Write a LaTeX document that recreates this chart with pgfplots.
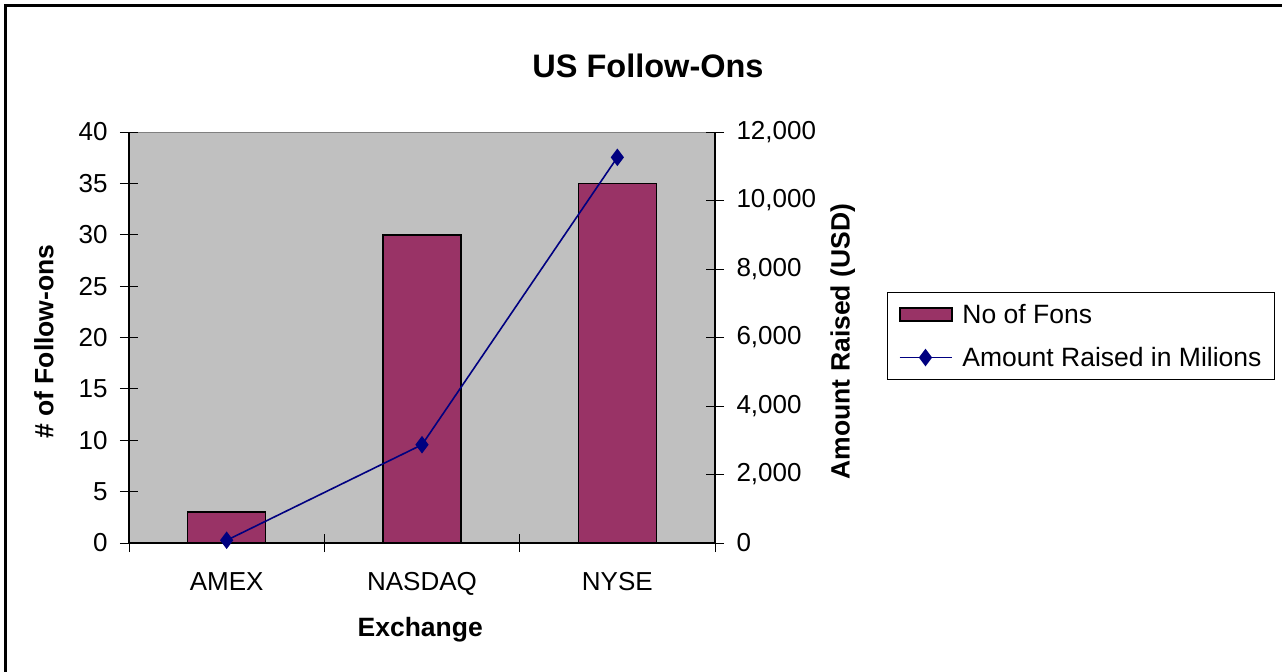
\documentclass[border=0pt]{standalone}
\usepackage{fontspec}
\setmainfont{Liberation Sans}
\usepackage{pgfplots}
\pgfplotsset{compat=1.18}
\definecolor{plum}{HTML}{993366}
\definecolor{navy}{HTML}{000080}
\definecolor{plotbg}{HTML}{C0C0C0}

\tikzset{lbl/.style={font=\bfseries\fontsize{26.5bp}{30bp}\selectfont}}
\pgfplotsset{
  common/.style={
    at={(129bp,-543bp)}, anchor=south west,
    scale only axis, width=586bp, height=411bp,
    xmin=-0.5, xmax=2.5,
    tick align=center, major tick length=18bp, minor tick length=18bp,
    every tick/.style={black, line width=1bp},
    axis line style={black, line width=1.2bp},
    /pgf/number format/assume math mode=true,
    tick label style={font=\fontsize{26bp}{29bp}\selectfont},
  },
  linelegend/.style={
    legend image code/.code={\draw[mark repeat=2, mark phase=2, ##1, line width=1.6bp] plot coordinates {(0bp,0bp) (26bp,0bp) (52bp,0bp)};}
  },
}

\begin{document}
\begin{tikzpicture}
\useasboundingbox (0,0) rectangle (1282bp,-672bp);
\draw[line width=2.5bp] (5.5bp,-672bp) -- (5.5bp,-5.5bp) -- (1282bp,-5.5bp);
\node[font=\bfseries\fontsize{32.5bp}{36bp}\selectfont] at (648bp,-66bp) {US Follow-Ons};

\begin{axis}[common,
  ymin=0, ymax=40,
  axis x line*=bottom, axis y line*=left,
  axis background/.style={fill=plotbg, draw=gray, line width=1bp},
  xtick={0,1,2}, xticklabels={AMEX,NASDAQ,NYSE},
  minor xtick={-0.5,0.5,1.5,2.5},
  major x tick style={draw=none},
  ytick={0,5,...,40},
  xticklabel style={anchor=base, yshift=-38bp},
  yticklabel style={anchor=east, xshift=-9bp},
  xlabel={Exchange}, ylabel={\# of Follow-ons},
  every axis x label/.style={lbl, at={(axis description cs:0.497,-0.21)}, anchor=center},
  every axis y label/.style={lbl, at={(axis description cs:-0.145,0.49)}, rotate=90, anchor=center},
]
\addplot[ybar, bar width=78bp, fill=plum, draw=black, line width=1.6bp]
  coordinates {(0,3) (1,30) (2,35)};
\end{axis}

\begin{axis}[common,
  ymin=0, ymax=12000,
  axis x line=none, axis y line*=right,
  ytick={0,2000,...,12000},
  scaled y ticks=false,
  yticklabel style={anchor=west, xshift=9bp, /pgf/number format/1000 sep={,}},
  ylabel={Amount Raised (USD)},
  every axis y label/.style={lbl, at={(axis description cs:1.218,0.49)}, rotate=90, anchor=center},
  legend cell align=left,
  legend style={at={(axis description cs:1.2935,0.6107)}, anchor=north west,
    draw=black, line width=1bp, font=\fontsize{26.5bp}{30bp}\selectfont,
    inner xsep=11bp, inner ysep=10bp, row sep=18bp,
    /tikz/every odd column/.append style={column sep=8bp}},
]
\addlegendimage{legend image code/.code={\draw[fill=plum, draw=black, line width=2bp] (0bp,-6.5bp) rectangle (52bp,6.5bp);}}
\addlegendentry{No of Fons}
\addplot[navy, line width=1.6bp, mark=diamond*, mark size=7.5bp, linelegend]
  coordinates {(0,80) (1,2870) (2,11260)};
\addlegendentry{Amount Raised in Milions}
\end{axis}
\end{tikzpicture}
\end{document}
